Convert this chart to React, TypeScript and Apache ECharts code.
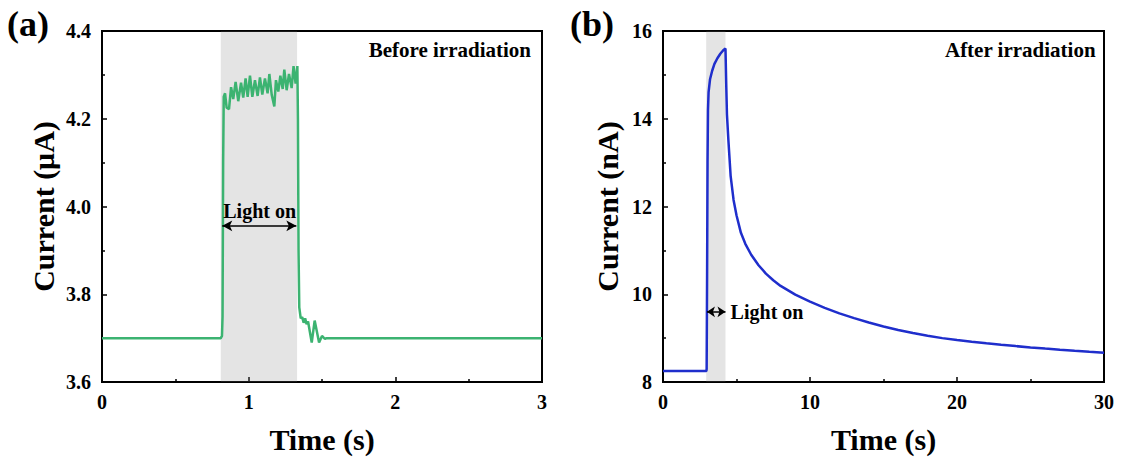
import React, { useEffect, useRef } from "react";
import * as echarts from "echarts";

// Panel (a): before irradiation (time s, current µA)
const timeA: number[] = [
  0, 0.81, 0.818, 0.822, 0.826, 0.83, 0.839, 0.85, 0.866, 0.88, 0.895, 0.911, 0.929, 0.948, 0.963,
  0.979, 0.993, 1.009, 1.025, 1.043, 1.061, 1.077, 1.093, 1.111, 1.129, 1.141, 1.157, 1.175, 1.186,
  1.202, 1.216, 1.232, 1.243, 1.259, 1.275, 1.293, 1.306, 1.32, 1.332, 1.336, 1.34, 1.345, 1.355,
  1.365, 1.375, 1.385, 1.395, 1.405, 1.43, 1.45, 1.48, 1.5, 1.52, 1.53, 3.0,
];
const currentA: number[] = [
  3.7, 3.7, 3.705, 3.75, 4.1, 4.25, 4.258, 4.225, 4.222, 4.272, 4.245, 4.284, 4.24, 4.282, 4.248,
  4.292, 4.25, 4.298, 4.25, 4.288, 4.252, 4.294, 4.255, 4.292, 4.258, 4.302, 4.255, 4.228, 4.288,
  4.262, 4.298, 4.268, 4.312, 4.265, 4.302, 4.27, 4.32, 4.28, 4.32, 4.2, 3.9, 3.77, 3.745, 3.748,
  3.735, 3.745, 3.732, 3.738, 3.69, 3.74, 3.69, 3.705, 3.698, 3.7, 3.7,
];
const lightA: number[] = [0.81, 1.33];

// Panel (b): after irradiation (time s, current nA)
const timeB: number[] = [
  0, 2.95, 2.97, 3.0, 3.03, 3.06, 3.1, 3.2, 3.35, 3.5, 3.7, 3.9, 4.1, 4.25, 4.3, 4.35, 4.45, 4.6,
  4.8, 5.0, 5.3, 5.6, 6.0, 6.5, 7.0, 7.5, 8, 9, 10, 11, 12, 13, 14, 15, 16, 17, 18, 19, 20, 21, 22,
  23, 24, 25, 26, 27, 28, 29, 30,
];
const currentB: number[] = [
  8.25, 8.25, 8.3, 10.5, 13.0, 14.2, 14.6, 14.9, 15.1, 15.25, 15.38, 15.48, 15.56, 15.6, 14.8, 14.1,
  13.5, 12.7, 12.15, 11.8, 11.4, 11.15, 10.9, 10.66, 10.47, 10.32, 10.19, 9.99, 9.83, 9.69, 9.565,
  9.455, 9.355, 9.265, 9.185, 9.115, 9.055, 9.0, 8.955, 8.917, 8.882, 8.849, 8.818, 8.789, 8.762,
  8.736, 8.711, 8.687, 8.665,
];
const lightB: number[] = [2.94, 4.25];

const xTicksA = { min: 0, max: 3, interval: 1 };
const yTicksA = { min: 3.6, max: 4.4, interval: 0.2 };
const xTicksB = { min: 0, max: 30, interval: 10 };
const yTicksB = { min: 8, max: 16, interval: 2 };

const FONT = "'Liberation Serif', 'Times New Roman', serif";

function axisBase(extra: any) {
  return {
    type: "value",
    splitLine: { show: false },
    axisLine: { show: true, onZero: false, lineStyle: { color: "#000", width: 2 } },
    axisTick: { show: true, inside: true, length: 5, lineStyle: { color: "#000", width: 1.5 } },
    minorTick: { show: true, splitNumber: 2, length: 3, lineStyle: { color: "#000", width: 1.5 } },
    axisLabel: { color: "#000", fontFamily: FONT, fontWeight: "bold", fontSize: 20, margin: 10 },
    nameTextStyle: { color: "#000", fontFamily: FONT, fontWeight: "bold", fontSize: 30 },
    nameLocation: "middle",
    ...extra,
  };
}

export default function App() {
  const ref = useRef<HTMLDivElement>(null);
  useEffect(() => {
    if (!ref.current) return;
    const chart = echarts.init(ref.current, null, { renderer: "svg" });
    const arrowLine = { color: "#000", width: 1.5, type: "solid" };
    const textLabel = {
      color: "#000",
      fontFamily: FONT,
      fontWeight: "bold",
      fontSize: 20,
    };
    chart.setOption({
      animation: false,
      backgroundColor: "#fff",
      grid: [
        { left: 102, top: 31, width: 440, height: 351, show: true, borderColor: "#000", borderWidth: 2 },
        { left: 663, top: 31, width: 441, height: 351, show: true, borderColor: "#000", borderWidth: 2 },
      ],
      xAxis: [
        axisBase({ gridIndex: 0, ...xTicksA, name: "Time (s)", nameGap: 42 }),
        axisBase({ gridIndex: 1, ...xTicksB, name: "Time (s)", nameGap: 42 }),
      ],
      yAxis: [
        axisBase({
          gridIndex: 0,
          ...yTicksA,
          name: "Current (μA)",
          nameGap: 44,
          axisLabel: {
            color: "#000", fontFamily: FONT, fontWeight: "bold", fontSize: 20, margin: 11,
            formatter: (v: number) => v.toFixed(1),
          },
        }),
        axisBase({
          gridIndex: 1,
          ...yTicksB,
          name: "Current (nA)",
          nameGap: 41,
          axisLabel: { color: "#000", fontFamily: FONT, fontWeight: "bold", fontSize: 20, margin: 11 },
        }),
      ],
      series: [
        {
          type: "line",
          xAxisIndex: 0,
          yAxisIndex: 0,
          data: timeA.map((t, i) => [t, currentA[i]]),
          showSymbol: false,
          symbol: "none",
          lineStyle: { color: "#3cb371", width: 2.5 },
          markArea: {
            silent: true,
            itemStyle: { color: "rgba(120,120,120,0.2)" },
            data: [[{ xAxis: lightA[0] }, { xAxis: lightA[1] }]],
          },
          markLine: {
            silent: true,
            symbol: ["arrow", "arrow"],
            symbolSize: [8, 10],
            lineStyle: arrowLine,
            label: { show: false },
            data: [[{ coord: [lightA[0] + 0.01, 3.956] }, { coord: [lightA[1] - 0.005, 3.956] }]],
          },
          markPoint: {
            silent: true,
            symbol: "circle",
            symbolSize: 0,
            label: { show: true, position: "inside", formatter: "Light on", ...textLabel },
            data: [{ coord: [(lightA[0] + lightA[1]) / 2 + 0.005, 3.99] }],
          },
        },
        {
          type: "line",
          xAxisIndex: 1,
          yAxisIndex: 1,
          data: timeB.map((t, i) => [t, currentB[i]]),
          showSymbol: false,
          symbol: "none",
          lineStyle: { color: "#1f2ecc", width: 2.5 },
          markArea: {
            silent: true,
            itemStyle: { color: "rgba(120,120,120,0.2)" },
            data: [[{ xAxis: lightB[0] }, { xAxis: lightB[1] }]],
          },
          markLine: {
            silent: true,
            symbol: ["arrow", "arrow"],
            symbolSize: [8, 8],
            lineStyle: arrowLine,
            label: { show: false },
            data: [[{ coord: [lightB[0] + 0.05, 9.6] }, { coord: [lightB[1], 9.6] }]],
          },
          markPoint: {
            silent: true,
            symbol: "circle",
            symbolSize: 0,
            label: { show: true, position: "right", distance: 0, formatter: "Light on", ...textLabel },
            data: [{ coord: [4.6, 9.6] }],
          },
        },
      ],
      graphic: [
        { type: "text", left: 7, top: 6, style: { text: "(a)", fill: "#000", font: `bold 36px ${FONT}` } },
        { type: "text", left: 570, top: 6, style: { text: "(b)", fill: "#000", font: `bold 36px ${FONT}` } },
        {
          type: "text", right: 1121 - 531, top: 39,
          style: { text: "Before irradiation", fill: "#000", font: `bold 21px ${FONT}` },
        },
        {
          type: "text", right: 1121 - 1096, top: 39,
          style: { text: "After irradiation", fill: "#000", font: `bold 21px ${FONT}` },
        },
      ],
    });
    return () => chart.dispose();
  }, []);
  return (
    <div
      ref={ref}
      style={{ position: "fixed", left: 0, top: 0, width: 1121, height: 463, background: "#fff" }}
    />
  );
}
